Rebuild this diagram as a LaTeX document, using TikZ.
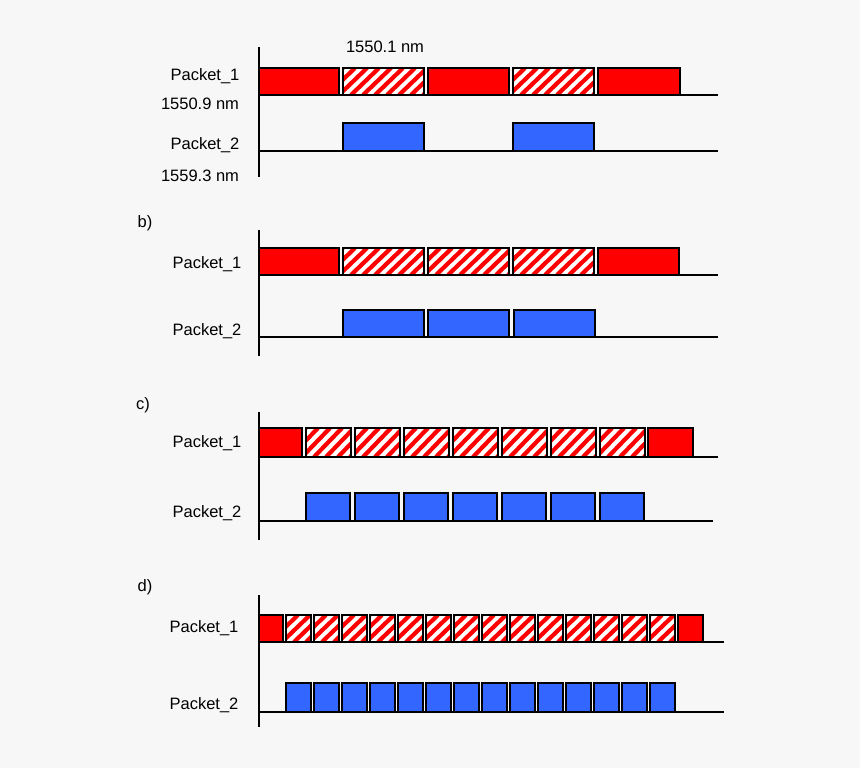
\documentclass[tikz,border=0pt]{standalone}
\usepackage{fontspec}
\setmainfont{Liberation Sans}
\definecolor{bg}{RGB}{247,247,247}
\definecolor{pred}{RGB}{255,0,0}
\definecolor{pblue}{RGB}{51,102,255}
\newcommand{\redbox}[4]{\draw[box,fill=pred] (#1,#2) rectangle (#3,#4);}
\newcommand{\bluebox}[4]{\draw[box,fill=pblue] (#1,#2) rectangle (#3,#4);}
\newcommand{\hatchbox}[4]{%
  \begin{scope}
    \clip (#1,#2) rectangle (#3,#4);
    \fill[white] (#1,#2) rectangle (#3,#4);
    \foreach \k in {-40,-28,...,100}{\draw[pred,line width=4.2pt] ({#1+\k},#4) -- ({#1+\k+28},#2);}
  \end{scope}
  \draw[box] (#1,#2) rectangle (#3,#4);}
\tikzset{box/.style={draw=black,line width=1.6pt},
  ax/.style={line width=1.6pt},
  lbl/.style={font=\fontsize{16.5}{19}\selectfont,inner sep=0pt}}
\begin{document}
\begin{tikzpicture}[x=1pt,y=-1pt]
\fill[bg] (0,0) rectangle (860,768);
\useasboundingbox (0,0) rectangle (860,768);
% a
\node[lbl] (wl) at (385,47) {1550.1 nm};
\node[lbl] (a1) at (205,76) {Packet\_1};
\node[lbl] (aw1) at (200,104) {1550.9 nm};
\node[lbl] (a2) at (205,145) {Packet\_2};
\node[lbl] (aw2) at (200,176) {1559.3 nm};
\redbox{259}{68}{339}{95}
\hatchbox{343}{68}{424}{95}
\redbox{428}{68}{509}{95}
\hatchbox{513}{68}{594}{95}
\redbox{598}{68}{680}{95}
\bluebox{343}{123}{424}{151}
\bluebox{513}{123}{594}{151}
\draw[ax] (259,47) -- (259,177);
\draw[ax] (259,95) -- (718,95);
\draw[ax] (259,151) -- (718,151);
% b
\node[lbl] (b) at (145,223) {b)};
\node[lbl] (b1) at (207,264) {Packet\_1};
\node[lbl] (b2) at (207,331) {Packet\_2};
\redbox{259}{248}{339}{275}
\hatchbox{343}{248}{424}{275}
\hatchbox{428}{248}{509}{275}
\hatchbox{513}{248}{594}{275}
\redbox{598}{248}{679}{275}
\bluebox{343}{310}{424}{337}
\bluebox{428}{310}{509}{337}
\bluebox{514}{310}{595}{337}
\draw[ax] (259,230) -- (259,356);
\draw[ax] (259,275) -- (718,275);
\draw[ax] (259,337) -- (718,337);
% c
\node[lbl] (c) at (143,405) {c)};
\node[lbl] (c1) at (207,443) {Packet\_1};
\node[lbl] (c2) at (207,513) {Packet\_2};
\redbox{259}{428}{302}{457}
\foreach \i in {0,...,6}{\hatchbox{306+49*\i}{428}{351+49*\i}{457}}
\redbox{648}{428}{693}{457}
\foreach \i in {0,...,6}{\bluebox{306+49*\i}{493}{350+49*\i}{521}}
\draw[ax] (259,412) -- (259,540);
\draw[ax] (259,457) -- (718,457);
\draw[ax] (259,521) -- (713,521);
% d
\node[lbl] (d) at (145,587) {d)};
\node[lbl] (d1) at (204,628) {Packet\_1};
\node[lbl] (d2) at (204,705) {Packet\_2};
\redbox{259}{615}{283}{642}
\foreach \i in {0,...,14}{\hatchbox{286+28*\i}{615}{311+28*\i}{642}}
\redbox{678}{615}{703}{642}
\foreach \i in {0,...,13}{\bluebox{286+28*\i}{683}{311+28*\i}{712}}
\draw[ax] (259,595) -- (259,727);
\draw[ax] (259,642) -- (724,642);
\draw[ax] (259,712) -- (724,712);
\end{tikzpicture}
\end{document}
